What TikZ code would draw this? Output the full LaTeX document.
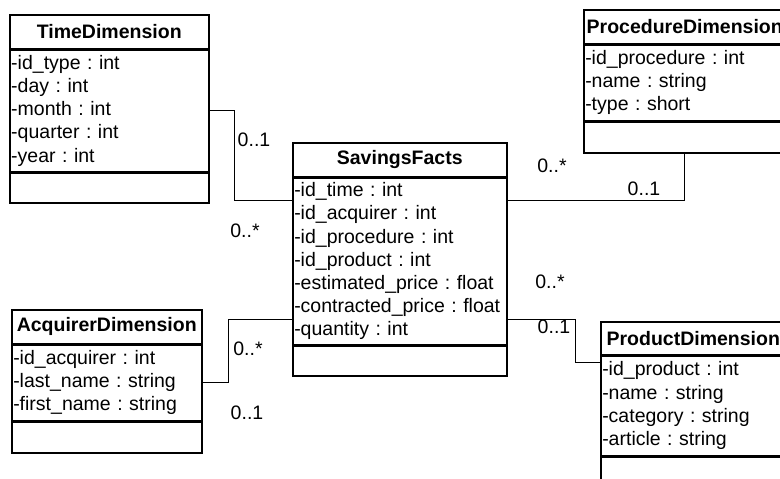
\documentclass[tikz,border=0pt]{standalone}
\usepackage{fontspec}
\setmainfont{Liberation Sans}
\usetikzlibrary{positioning}
\frenchspacing

\tikzset{
  umlfont/.style={font=\fontsize{19.5pt}{23.2pt}\selectfont},
  uml/.style={draw, line width=1.5pt, inner xsep=1.5pt, inner ysep=0pt, umlfont},
  head/.style={uml, font=\fontsize{19.5pt}{23.2pt}\selectfont\bfseries, minimum height=34pt, anchor=north west},
  attrs/.style={uml, align=left},
  meth/.style={uml, minimum height=30pt},
  mult/.style={umlfont, inner sep=0pt},
  link/.style={line width=1pt}
}

\begin{document}
\begin{tikzpicture}[x=1pt, y=-1pt]
		\useasboundingbox (0,0) rectangle (780,479);
		\clip (0,0) rectangle (780,479);
		% classes
		\node[head, minimum width=199pt] (timeH) at (9,14) {TimeDimension};
		\node[attrs, text width=196pt, minimum height=121pt, below=0pt of timeH] (timeA) {-id\_type : int\\-day : int\\-month : int\\-quarter : int\\-year : int};
		\node[meth, minimum width=199pt, below=0pt of timeA] (timeM) {};
		\node[head, minimum width=214pt] (factsH) at (292,142) {SavingsFacts};
		\node[attrs, text width=211pt, minimum height=166pt, below=0pt of factsH] (factsA) {-id\_time : int\\-id\_acquirer : int\\-id\_procedure : int\\-id\_product : int\\-estimated\_price : float\\-contracted\_price : float\\-quantity : int};
		\node[meth, minimum width=214pt, below=0pt of factsA] (factsM) {};
		\node[head, minimum width=202pt] (procH) at (583,9) {ProcedureDimension};
		\node[attrs, text width=199pt, minimum height=75pt, below=0pt of procH] (procA) {-id\_procedure : int\\-name : string\\-type : short};
		\node[meth, minimum width=202pt, minimum height=31pt, below=0pt of procA] (procM) {};
		\node[head, minimum width=190pt] (acqH) at (11,309) {AcquirerDimension};
		\node[attrs, text width=187pt, minimum height=75pt, below=0pt of acqH] (acqA) {-id\_acquirer : int\\-last\_name : string\\-first\_name : string};
		\node[meth, minimum width=190pt, minimum height=31pt, below=0pt of acqA] (acqM) {};
		\node[head, minimum width=185pt, minimum height=33pt] (prodH) at (600,321) {ProductDimension};
		\node[attrs, text width=182pt, minimum height=99pt, below=0pt of prodH] (prodA) {-id\_product : int\\-name : string\\-category : string\\-article : string};
		\node[meth, minimum width=185pt, below=0pt of prodA] (prodM) {};
		% associations
		\draw[link] (timeA.east) -- ++(25,0) |- ([yshift=-23pt]factsA.north west);
		\draw[link] (procM.south) |- ([yshift=-23pt]factsA.north east);
		\draw[link] (acqA.east) -- ++(26,0) |- ([yshift=26pt]factsA.south west);
		\draw[link] ([yshift=26pt]factsA.south east) -- ++(68,0) |- ([yshift=-7pt]prodA.north west);
		% multiplicities
		\node[mult] (timeOne) at (254,140) {0..1};
		\node[mult] (timeMany) at (245,231) {0..*};
		\node[mult] (procMany) at (552,166) {0..*};
		\node[mult] (procOne) at (644,189) {0..1};
		\node[mult] (acqMany) at (248,349) {0..*};
		\node[mult] (acqOne) at (247,413) {0..1};
		\node[mult] (prodMany) at (550,282) {0..*};
		\node[mult] (prodOne) at (554,327) {0..1};
\end{tikzpicture}
\end{document}
